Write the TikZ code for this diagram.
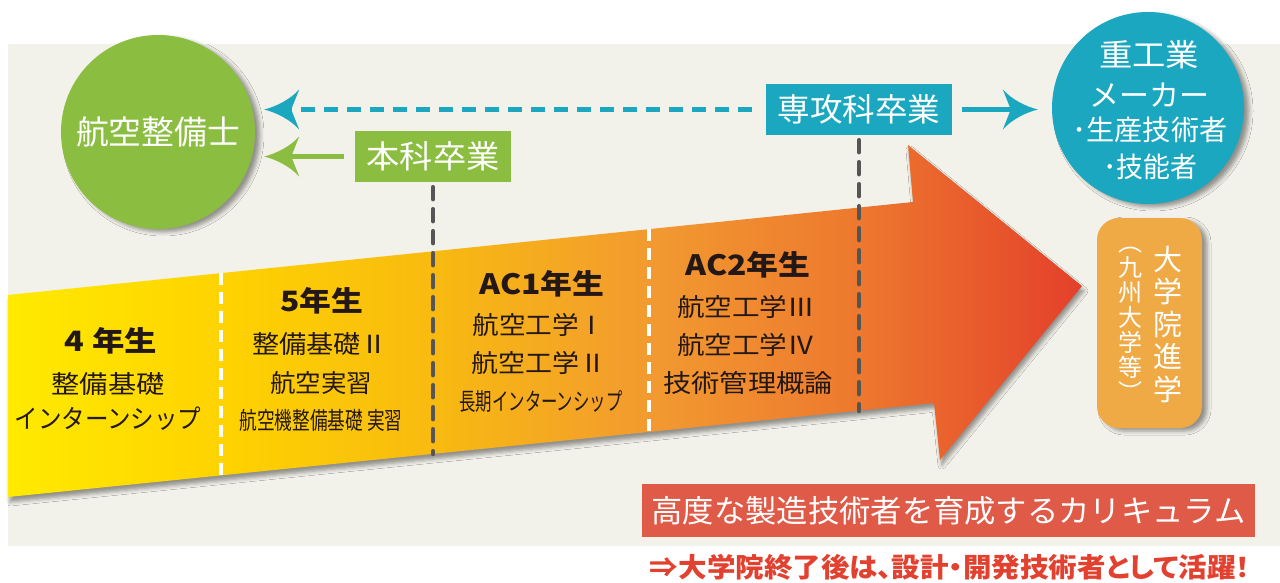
\documentclass[tikz,border=0pt]{standalone}
\usepackage{fontspec}
\usepackage{graphicx}
\setmainfont{Noto Sans CJK JP}
\newfontfamily\pfont{Noto Sans CJK JP}[RawFeature=+palt]
\usetikzlibrary{arrows.meta,shadows.blur}
\newcommand{\fitw}[2]{\resizebox{#1}{\height}{#2}}
\newcommand{\fs}[1]{\fontsize{#1}{#1}\selectfont}
\definecolor{bgc}{HTML}{F2F1EA}
\definecolor{grn}{HTML}{8BBD41}
\definecolor{tel}{HTML}{1BA7BF}
\definecolor{gry}{HTML}{555555}
\definecolor{orb}{HTML}{EFAA45}
\definecolor{rdb}{HTML}{E05A48}
\definecolor{rdt}{HTML}{E2412F}
\definecolor{txt}{HTML}{231815}
\definecolor{ay0}{HTML}{FFEA00}
\definecolor{ay1}{HTML}{FFD300}
\definecolor{ay2}{HTML}{F8BA10}
\definecolor{ay3}{HTML}{F29A30}
\definecolor{ay4}{HTML}{ED782E}
\definecolor{ay5}{HTML}{E4402B}
\pgfdeclarehorizontalshading{arrowshade}{100bp}{color(0bp)=(ay0); color(25bp)=(ay0); color(34.87bp)=(ay1); color(44.88bp)=(ay2); color(54.89bp)=(ay3); color(64.66bp)=(ay4); color(75bp)=(ay5); color(100bp)=(ay5)}
\pgfdeclarearrow{
  name=Swept,
  setup code={
    \pgfarrowssettipend{0pt}
    \pgfarrowssetbackend{-35pt}
    \pgfarrowssetlineend{-27pt}
    \pgfarrowshullpoint{0pt}{0pt}
    \pgfarrowshullpoint{-35pt}{20pt}
    \pgfarrowshullpoint{-35pt}{-20pt}
  },
  drawing code={
    \pgfpathmoveto{\pgfqpoint{0pt}{0pt}}
    \pgfpathcurveto{\pgfqpoint{-12pt}{3pt}}{\pgfqpoint{-26pt}{10pt}}{\pgfqpoint{-35pt}{20pt}}
    \pgfpathlineto{\pgfqpoint{-27pt}{0pt}}
    \pgfpathlineto{\pgfqpoint{-35pt}{-20pt}}
    \pgfpathcurveto{\pgfqpoint{-26pt}{-10pt}}{\pgfqpoint{-12pt}{-3pt}}{\pgfqpoint{0pt}{0pt}}
    \pgfpathclose
    \pgfusepathqfill
  }
}
\tikzset{
  softshadow/.style={blur shadow={shadow xshift=5pt, shadow yshift=-3pt, shadow blur radius=4pt, shadow opacity=40}},
  circ/.style={circle, inner sep=0pt, minimum size=194pt, softshadow},
  lbl/.style={inner sep=0pt, text=txt},
  wlbl/.style={inner sep=0pt, text=white},
  tagbox/.style={inner sep=0pt, minimum height=51pt, text=white, font=\fs{32}},
  wdash/.style={draw=white, line width=3.5pt, dash pattern=on 12pt off 7pt},
  gdash/.style={draw=gry, line width=4.5pt, dash pattern=on 12pt off 10pt, line cap=round},
  conn/.style={line width=5pt, -{Swept}}
}
\begin{document}
\begin{tikzpicture}[x=1pt,y=-1pt]
\useasboundingbox (0,0) rectangle (1280,582);
\fill[bgc] (8,44) rectangle (1280,546);
% big arrow
\shade[shading=arrowshade, blur shadow={shadow xshift=2pt, shadow yshift=-5pt, shadow blur radius=4pt, shadow opacity=40}]
  (8,295) -- (913,202) -- (908,145) -- (1082,286) -- (940,460) -- (934,403) -- (8,497) -- cycle;
% white separators
\coordinate (w1t) at (221,273); \coordinate (w1b) at (221,475);
\coordinate (w2t) at (649,229); \coordinate (w2b) at (649,432);
\draw[wdash] (w1t) -- (w1b);
\draw[wdash] (w2t) -- (w2b);
% graduation boxes
\node[tagbox, fill=grn, minimum width=156pt] (box1) at (433,156.5) {\fitw{133pt}{本科卒業}};
\node[tagbox, fill=tel, minimum width=186pt] (box2) at (859,109.5) {\fitw{163pt}{専攻科卒業}};
\coordinate (g1) at (433,454);
\coordinate (g2) at (859,411);
\draw[gdash, shorten <=5pt] (box1.south) -- (g1);
\draw[gdash, shorten <=5pt] (box2.south) -- (g2);
% section texts
\node[lbl, font=\bfseries\fs{28}] (s1a) at (111,341) {\fitw{92pt}{4 年生}};
\node[lbl, font=\fs{25}] (s1b) at (108,384) {\fitw{113pt}{整備基礎}};
\node[lbl, font=\fs{26}] (s1c) at (108,419) {\fitw{187pt}{インターンシップ}};
\node[lbl, font=\bfseries\fs{28}] (s2a) at (322,301) {\fitw{83pt}{5年生}};
\node[lbl, font=\fs{25}] (s2b) at (320,344) {\fitw{136pt}{整備基礎Ⅱ}};
\node[lbl, font=\fs{25}] (s2c) at (321,383) {\fitw{102pt}{航空実習}};
\node[lbl, font=\fs{24}] (s2d) at (321,420) {\fitw{163pt}{航空機整備基礎 実習}};
\node[lbl, font=\bfseries\fs{28}] (s3a) at (542,284) {\fitw{125pt}{AC1年生}};
\node[lbl, font=\fs{25}] (s3b) at (539,325) {\fitw{133pt}{航空工学Ⅰ}};
\node[lbl, font=\fs{25}] (s3c) at (539,363) {\fitw{135pt}{航空工学Ⅱ}};
\node[lbl, font=\fs{24}] (s3d) at (541,402) {\fitw{163pt}{長期インターンシップ}};
\node[lbl, font=\bfseries\fs{28}] (s4a) at (748,265) {\fitw{125pt}{AC2年生}};
\node[lbl, font=\fs{25}] (s4b) at (746,307) {\fitw{138pt}{航空工学Ⅲ}};
\node[lbl, font=\fs{25}] (s4c) at (746,345) {\fitw{138pt}{航空工学Ⅳ}};
\node[lbl, font=\fs{25}] (s4d) at (748,383) {\fitw{170pt}{技術管理概論}};
% circles
\node[circ, fill=grn, text=white, font=\fs{33}] (circ1) at (158,132) {\fitw{164pt}{航空整備士}};
\node[circ, fill=tel, minimum size=192pt] (circ2) at (1148,108) {};
\node[wlbl, font=\fs{31}] (c2a) at (1149,55) {\fitw{100pt}{重工業}};
\node[wlbl, font=\fs{30}] (c2b) at (1149,95) {\fitw{120pt}{メーカー}};
\node[wlbl, font=\fs{28}] (c2c) at (1150,130) {\fitw{155pt}{･生産技術者}};
\node[wlbl, font=\fs{28}] (c2d) at (1150,167) {\fitw{94pt}{･技能者}};
% connectors
\draw[conn, tel, dash pattern=on 14pt off 9pt, shorten <=14pt, shorten >=9pt] (box2.west) -- (box2.west -| circ1.east);
\draw[conn, grn, shorten <=11pt, shorten >=9pt] (box1.west) -- (box1.west -| circ1.east);
\draw[conn, tel, shorten <=10pt, shorten >=14pt] (box2.east) -- (box2.east -| circ2.west);
% graduate school box
\node[fill=orb, rounded corners=22pt, minimum width=105pt, minimum height=210pt, inner sep=0pt, softshadow] (ob) at (1149.5,323) {};
\node[wlbl, align=center, font={\fontsize{29}{32.5}\selectfont}] (v1) at (1168,324.5) {大\\学\\院\\進\\学};
\node[wlbl, align=center, font={\fontsize{24}{25}\selectfont}] (v2) at (1130,324) {︵\\九\\州\\大\\学\\等\\︶};
% bottom banners
\node[fill=rdb, minimum width=613pt, minimum height=53pt, inner sep=0pt, text=white, font=\fs{31}] (rb) at (948.5,510.5) {\fitw{594pt}{高度な製造技術者を育成するカリキュラム}};
\node[inner sep=0pt, text=rdt, font=\pfont\bfseries\fs{27}] (bt) at (950,567) {\fitw{600pt}{⇒大学院終了後は、設計・開発技術者として活躍！}};
\end{tikzpicture}
\end{document}
